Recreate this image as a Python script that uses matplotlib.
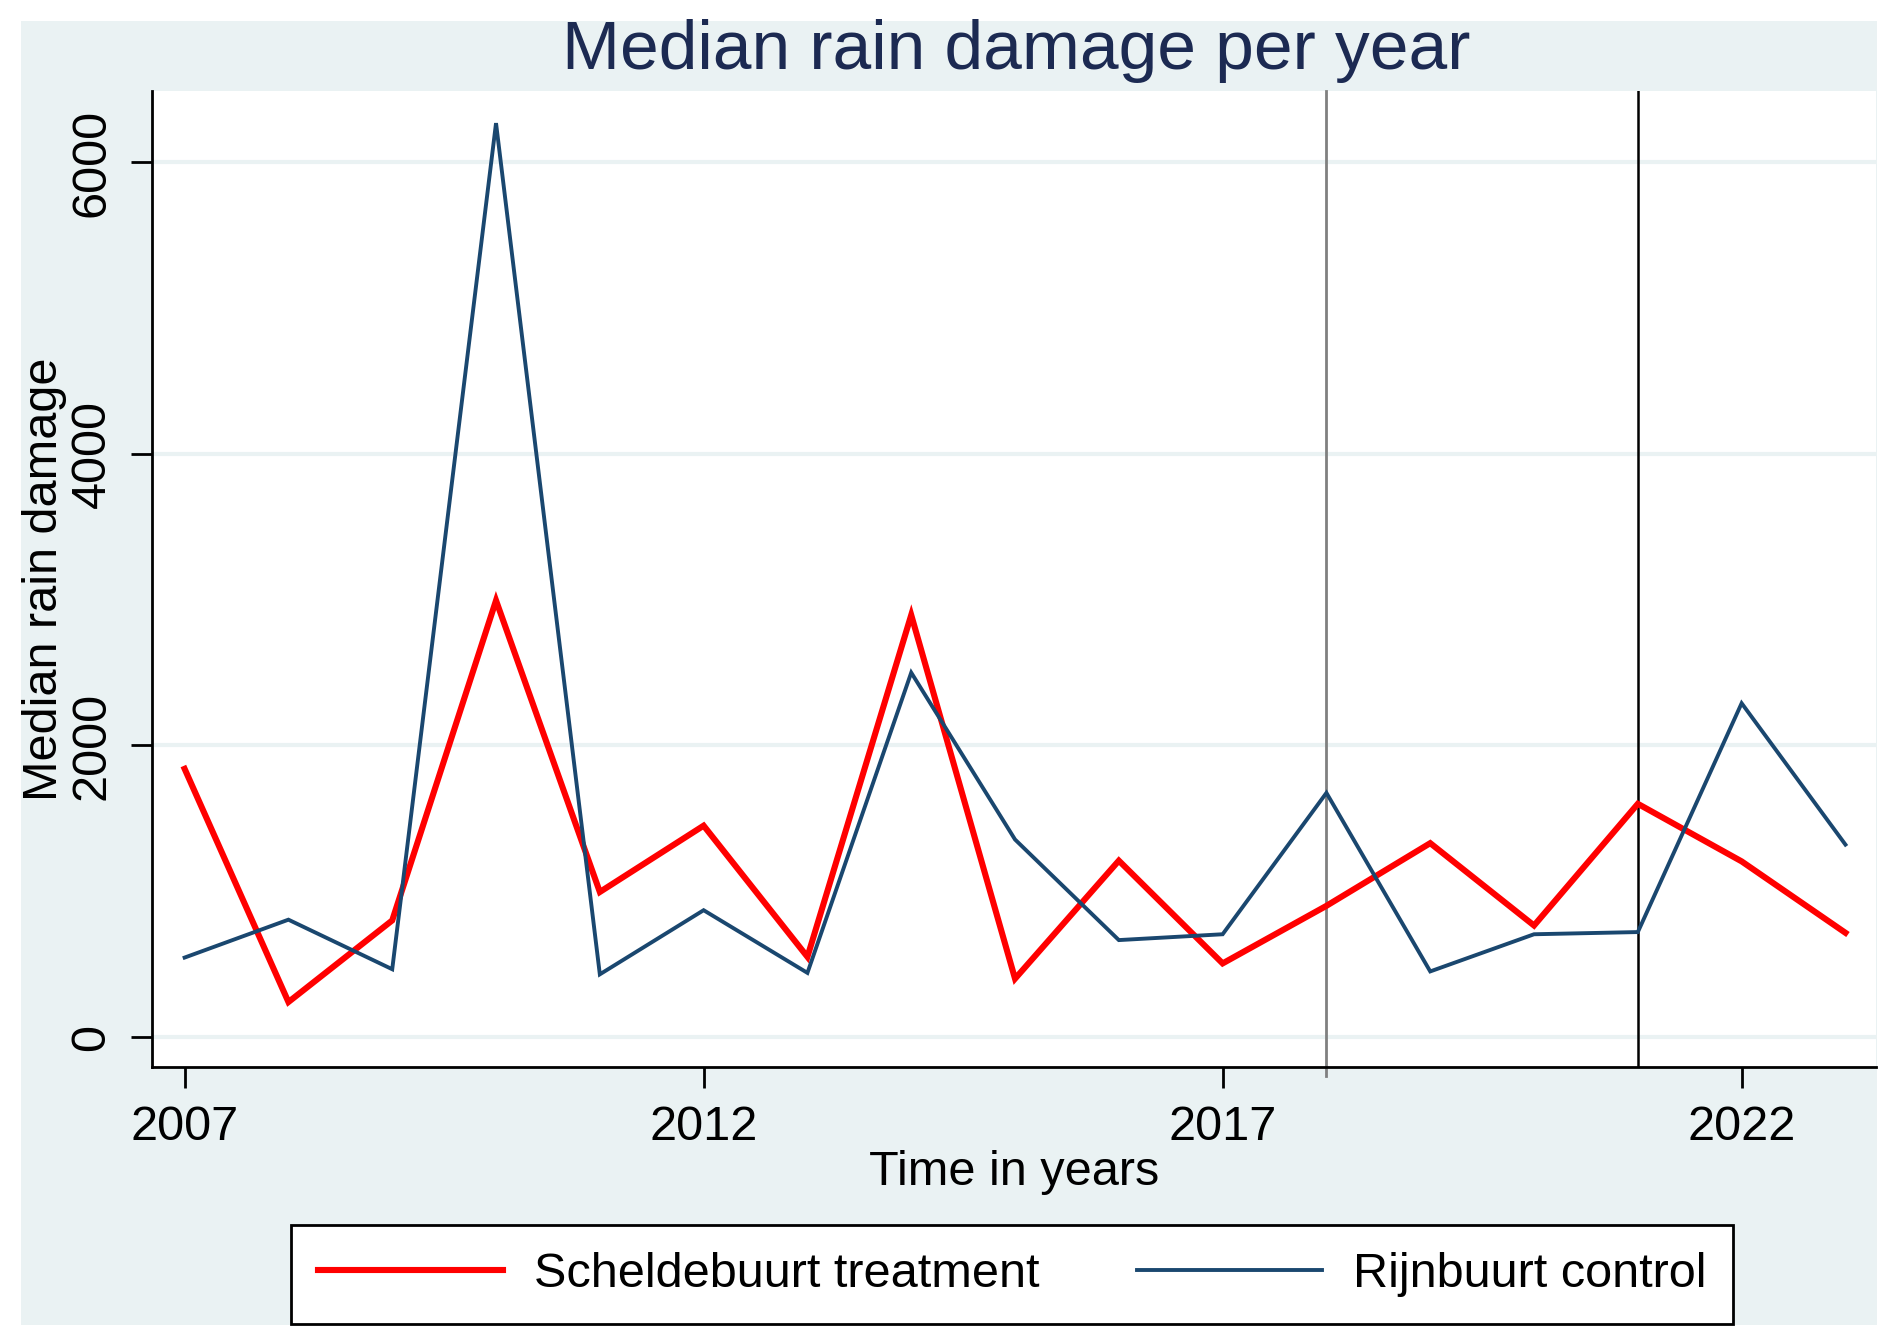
import matplotlib as mpl
import matplotlib.pyplot as plt
from matplotlib.patches import Rectangle

mpl.rcParams['font.family'] = ['Liberation Sans', 'DejaVu Sans']

# data
years = list(range(2007, 2024))
scheldebuurt = [1840, 240, 800, 2995, 995, 1450, 550, 2895, 400, 1210,
                505, 900, 1330, 765, 1600, 1205, 715]
rijnbuurt = [545, 805, 465, 6270, 430, 870, 440, 2500, 1355, 665,
             705, 1675, 450, 705, 720, 2290, 1320]
xticks = [2007, 2012, 2017, 2022]
yticks = [0, 2000, 4000, 6000]
event_years = [2018, 2021]

BG = '#EAF2F3'
NAVY = '#1A476F'

fig = plt.figure(figsize=(18.92, 13.39), dpi=100)
fig.patch.set_facecolor('white')
# Stata style light panel behind everything
fig.patches.append(Rectangle((0.011, 0.0105), 0.981, 0.9735, transform=fig.transFigure,
                             facecolor=BG, edgecolor='none', zorder=-10))

ax = fig.add_axes([0.0803, 0.203, 0.911, 0.729])
ax.set_facecolor('white')

ax.plot(years, scheldebuurt, color='#FF0000', lw=4.4, label='Scheldebuurt treatment',
        zorder=3, solid_joinstyle='miter')
ax.plot(years, rijnbuurt, color=NAVY, lw=2.8, label='Rijnbuurt control',
        zorder=3, solid_joinstyle='miter')

ax.axvline(event_years[0], ymin=-0.009, color='#808080', lw=2.0, zorder=2, clip_on=False)
ax.axvline(event_years[1], color='black', lw=1.8, zorder=2)

ax.set_xlim(2006.685, 2023.29)
ax.set_ylim(-207, 6490)
ax.set_xticks(xticks)
ax.set_yticks(yticks)
ax.grid(axis='y', color=BG, lw=3, zorder=1)
ax.grid(axis='x', visible=False)

for s in ['top', 'right']:
    ax.spines[s].set_visible(False)
for s in ['left', 'bottom']:
    ax.spines[s].set_linewidth(2.0)
    ax.spines[s].set_zorder(4)

ax.tick_params(axis='both', labelsize=35, length=15, width=2, pad=12)
plt.setp(ax.get_yticklabels(), rotation=90, va='center')

ax.set_xlabel('Time in years', fontsize=35, labelpad=0)
ax.set_ylabel('Median rain damage', fontsize=35, labelpad=2)

fig.text(0.537, 0.962, 'Median rain damage per year', fontsize=50, color='#1C2A52',
         ha='center', va='center')

leg = fig.legend(loc='lower center', bbox_to_anchor=(0.535, 0.0115), ncol=2, fontsize=35,
                 frameon=True, fancybox=False, edgecolor='black', facecolor='white',
                 framealpha=1, handlelength=3.8, handletextpad=0.65, columnspacing=2.0,
                 borderpad=0.55, borderaxespad=0)
leg.get_frame().set_linewidth(2.0)

fig.savefig('out.png', dpi=100, facecolor='white')
